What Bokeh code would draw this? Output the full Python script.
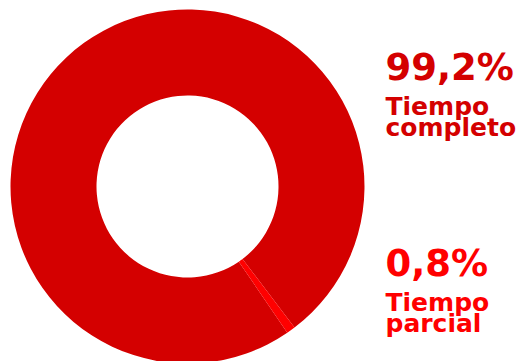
import math
from bokeh.plotting import figure
from bokeh.models import Range1d, ColumnDataSource
from bokeh.core.properties import value
from bokeh.embed import file_html
from bokeh.resources import INLINE

# Data
categories = ["Tiempo completo", "Tiempo parcial"]
shares = [99.2, 0.8]
pct_labels = ["99,2%", "0,8%"]
name_line1 = ["Tiempo", "Tiempo"]
name_line2 = ["completo", "parcial"]
colors = ["#d40000", "#ff0000"]

W, H = 526, 361
p = figure(width=W, height=H, output_backend="svg", toolbar_location=None,
           x_range=Range1d(0, W), y_range=Range1d(0, H),
           x_axis_location=None, y_axis_location=None, min_border=0)
p.grid.visible = False
p.outline_line_color = None
p.background_fill_color = "white"
p.border_fill_color = "white"

# donut
cx, cy = 187, H - 186
start_offset = math.radians(-52.8)
total = sum(shares)
starts, ends = [], []
acc = start_offset
for s in shares:
    starts.append(acc)
    acc += 2 * math.pi * s / total
    ends.append(acc)

src = ColumnDataSource(dict(start=starts, end=ends, color=colors, cat=categories))
p.annular_wedge(x=cx, y=cy, inner_radius=91, outer_radius=177,
                start_angle="start", end_angle="end", fill_color="color",
                line_color=None, source=src)

# labels
tx = 385
pct_base = [H - 67, H - 263]
for i in range(len(categories)):
    b = pct_base[i]
    p.text(x=[tx], y=[b], text=[pct_labels[i]], text_font=value("DejaVu Sans"),
           text_font_style="bold", text_font_size="37px", text_color=colors[i],
           text_baseline="alphabetic", text_align="left")
    p.text(x=[tx], y=[b - 39], text=[name_line1[i]], text_font=value("DejaVu Sans"),
           text_font_style="bold", text_font_size="25px", text_color=colors[i],
           text_baseline="alphabetic", text_align="left")
    p.text(x=[tx], y=[b - 60], text=[name_line2[i]], text_font=value("DejaVu Sans"),
           text_font_style="bold", text_font_size="25px", text_color=colors[i],
           text_baseline="alphabetic", text_align="left")

open("out.html", "w").write(file_html(p, INLINE))
